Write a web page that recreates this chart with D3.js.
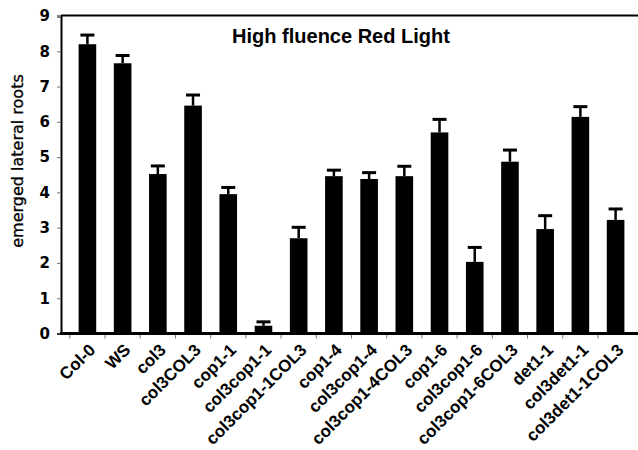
<!DOCTYPE html>
<html>
<head>
<meta charset="utf-8">
<script src="https://cdn.jsdelivr.net/npm/d3@7"></script>
<style>
  html, body { margin: 0; padding: 0; background: #fff; }
  svg { display: block; overflow: hidden; }
</style>
</head>
<body>
<div id="chart"></div>
<script>
const genotypes = ["Col-0", "WS", "col3", "col3COL3", "cop1-1", "col3cop1-1", "col3cop1-1COL3",
  "cop1-4", "col3cop1-4", "col3cop1-4COL3", "cop1-6", "col3cop1-6", "col3cop1-6COL3",
  "det1-1", "col3det1-1", "col3det1-1COL3"];
const means = [8.2, 7.66, 4.52, 6.46, 3.95, 0.22, 2.7, 4.46, 4.38, 4.46, 5.7, 2.03, 4.87, 2.96, 6.14, 3.22];
const errors = [0.26, 0.22, 0.23, 0.3, 0.19, 0.11, 0.31, 0.17, 0.18, 0.28, 0.37, 0.41, 0.33, 0.38, 0.29, 0.31];
const yTicks = [0, 1, 2, 3, 4, 5, 6, 7, 8, 9];

const width = 638, height = 450;
const margin = {top: 16, left: 61, bottom: 333.5, right: 642};

const svg = d3.select("#chart").append("svg")
  .attr("width", width)
  .attr("height", height);

const x = d3.scaleBand()
  .domain(genotypes)
  .range([margin.left, margin.right])
  .padding(0.5);

const y = d3.scaleLinear()
  .domain([0, 9])
  .range([margin.bottom, margin.top]);

// frame top
svg.append("line")
  .attr("x1", margin.left).attr("x2", width)
  .attr("y1", margin.top - 0.5).attr("y2", margin.top - 0.5)
  .attr("stroke", "#000").attr("stroke-width", 2);

// bars
svg.append("g").selectAll("rect")
  .data(genotypes)
  .join("rect")
  .attr("x", d => x(d))
  .attr("width", x.bandwidth())
  .attr("y", (d, i) => y(means[i]))
  .attr("height", (d, i) => y(0) - y(means[i]))
  .attr("fill", "#000");

// error bars (upper only)
const err = svg.append("g").attr("stroke", "#000");
err.selectAll("line.stem")
  .data(genotypes)
  .join("line")
  .attr("class", "stem")
  .attr("x1", d => x(d) + x.bandwidth() / 2)
  .attr("x2", d => x(d) + x.bandwidth() / 2)
  .attr("y1", (d, i) => y(means[i]))
  .attr("y2", (d, i) => y(means[i] + errors[i]))
  .attr("stroke-width", 2.5);
err.selectAll("line.cap")
  .data(genotypes)
  .join("line")
  .attr("class", "cap")
  .attr("x1", d => x(d) + x.bandwidth() / 2 - 7)
  .attr("x2", d => x(d) + x.bandwidth() / 2 + 7)
  .attr("y1", (d, i) => y(means[i] + errors[i]))
  .attr("y2", (d, i) => y(means[i] + errors[i]))
  .attr("stroke-width", 3);

// y axis
const yAxis = svg.append("g")
  .attr("transform", `translate(${margin.left},0)`)
  .call(d3.axisLeft(y).tickValues(yTicks).tickSize(4).tickPadding(7).tickFormat(d3.format("d")));
yAxis.select(".domain").attr("stroke", "#000").attr("stroke-width", 2);
yAxis.selectAll(".tick line").attr("stroke", "#777");
yAxis.selectAll(".tick text")
  .attr("font-family", "DejaVu Sans, sans-serif")
  .attr("font-weight", "bold")
  .attr("font-size", 15)
  .attr("fill", "#000");

// x axis with ticks at the category boundaries
const boundaries = genotypes.map(d => x(d) - x.step() * x.paddingInner() / 2);
const xAxis = svg.append("g").attr("transform", `translate(0,${margin.bottom})`);
xAxis.selectAll("line.tk")
  .data(boundaries)
  .join("line")
  .attr("class", "tk")
  .attr("x1", d => d).attr("x2", d => d)
  .attr("y1", 0).attr("y2", 5)
  .attr("stroke", "#777");
xAxis.append("line")
  .attr("x1", margin.left - 1).attr("x2", width)
  .attr("y1", 0).attr("y2", 0)
  .attr("stroke", "#000").attr("stroke-width", 3);

svg.append("g").selectAll("text")
  .data(genotypes)
  .join("text")
  .attr("transform", d => `translate(${x(d) + x.bandwidth() / 2 + 9},351) rotate(-45)`)
  .attr("text-anchor", "end")
  .attr("font-family", "Liberation Sans, Arial, sans-serif")
  .attr("font-weight", "bold")
  .attr("font-size", 17)
  .attr("fill", "#000")
  .text(d => d);

// title
svg.append("text")
  .attr("x", 341).attr("y", 43)
  .attr("text-anchor", "middle")
  .attr("font-family", "Liberation Sans, Arial, sans-serif")
  .attr("font-weight", "bold")
  .attr("font-size", 20)
  .attr("fill", "#000")
  .text("High fluence Red Light");

// y label
svg.append("text")
  .attr("transform", "translate(23,161) rotate(-90)")
  .attr("text-anchor", "middle")
  .attr("font-family", "DejaVu Sans, sans-serif")
  .attr("font-size", 16)
  .attr("fill", "#000")
  .attr("stroke", "#000")
  .attr("stroke-width", 0.3)
  .text("emerged lateral roots");
</script>
</body>
</html>
